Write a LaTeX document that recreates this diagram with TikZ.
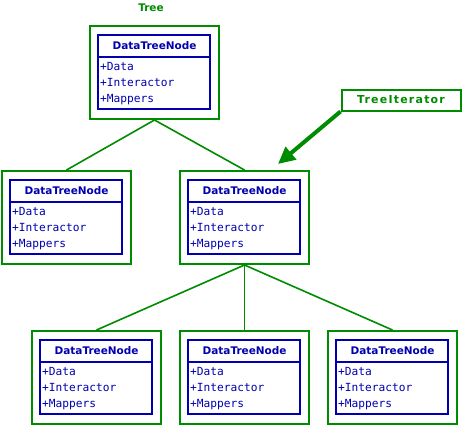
\documentclass[tikz,border=0pt]{standalone}
\usepackage{fontspec}
\usetikzlibrary{calc,arrows.meta}
\newfontfamily\tfont{DejaVu Sans}
\newfontfamily\tifont[LetterSpace=11]{DejaVu Sans}
\newfontfamily\mfont{DejaVu Sans Mono}
\definecolor{dgreen}{RGB}{0,140,0}
\definecolor{dblue}{RGB}{0,0,176}
\tikzset{
  gbox/.style={draw=dgreen, line width=2pt, inner sep=0pt, minimum width=129pt, minimum height=93pt},
  bbox/.style={draw=dblue, line width=2.2pt, inner sep=0pt, minimum width=112pt, minimum height=74pt},
  bline/.style={draw=dblue, line width=2pt},
  titlef/.style={inner sep=0pt, text=dblue, font=\tfont\bfseries\fontsize{10.5}{12}\selectfont},
  attr/.style={anchor=base west, inner sep=0pt, text=dblue, font=\mfont\fontsize{11.2}{13}\selectfont},
  conn/.style={draw=dgreen, line width=1.6pt},
  lbl/.style={inner sep=0pt, text=dgreen, font=\tfont\bfseries\fontsize{10.5}{12}\selectfont},
  itbox/.style={draw=dgreen, line width=2pt, inner sep=0pt, minimum width=119pt, minimum height=21pt, text=dgreen, font=\tifont\bfseries\fontsize{11}{12}\selectfont},
  iarrow/.style={draw=dgreen, line width=4pt, -{Triangle[length=17pt,width=16pt]}}
}
\newcommand\DTN[3]{%
  \node[gbox, anchor=north west] (#1) at (#2,#3) {};
  \node[bbox, anchor=north west] (#1c) at ($(#1.north west)+(8,9)$) {};
  \node[titlef] (#1t) at ($(#1c.north)+(0.5,11.5)$) {DataTreeNode};
  \draw[bline] ($(#1c.north west)+(0,23)$) -- ($(#1c.north east)+(0,23)$);
  \node[attr] (#1a) at ($(#1c.north west)+(3,36)$) {+Data};
  \node[attr] (#1b) at ($(#1c.north west)+(3,52)$) {+Interactor};
  \node[attr] (#1m) at ($(#1c.north west)+(3,68)$) {+Mappers};
}
\begin{document}
\begin{tikzpicture}[x=1pt,y=-1pt]
\useasboundingbox[fill=white] (0,0) rectangle (462,424);
\node[lbl] (treelbl) at (151,8) {Tree};
\DTN{T}{89}{25}
\DTN{ML}{1}{170}
\DTN{MR}{179}{170}
\DTN{BA}{31}{330}
\DTN{BB}{179}{330}
\DTN{BC}{327}{330}
\draw[conn] (T.south) -- (ML.north);
\draw[conn] (T.south) -- (MR.north);
\draw[conn] (MR.south) -- (BA.north);
\draw[conn] (MR.south) -- (BB.north);
\draw[conn] (MR.south) -- (BC.north);
\node[itbox] (it) at (401,100) {TreeIterator};
\coordinate (tip) at (278,164);
\draw[iarrow] (it.south west) -- (tip);
\end{tikzpicture}
\end{document}
